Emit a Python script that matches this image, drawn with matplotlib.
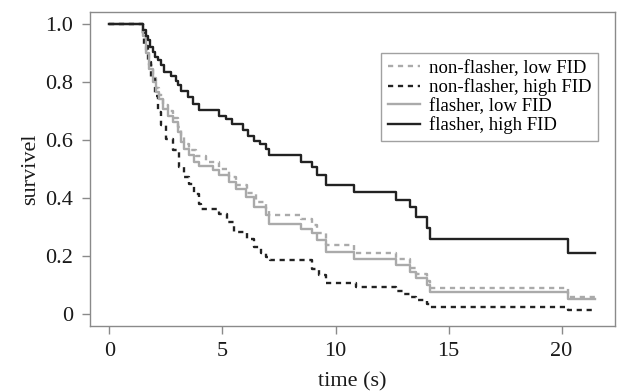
import matplotlib
matplotlib.use('Agg')
import matplotlib.pyplot as plt

plt.rcParams['font.family'] = ['Liberation Serif', 'DejaVu Serif']

# non-flasher, low FID
nl_t = [0, 1.47, 1.62, 1.77, 1.91, 2.06, 2.2, 2.35, 2.57, 2.8, 3.02, 3.16, 3.31, 3.53, 3.83,
        4.27, 4.86, 5.3, 5.6, 6.1, 6.47, 6.92, 7.06, 8.46, 8.97, 9.19, 9.57, 10.8, 12.66,
        13.3, 13.54, 14.05, 14.2, 20.3, 21.5]
nl_s = [1.0, 0.97, 0.91, 0.86, 0.815, 0.78, 0.755, 0.72, 0.70, 0.675, 0.645, 0.61, 0.585, 0.565,
        0.545, 0.524, 0.50, 0.472, 0.444, 0.416, 0.386, 0.364, 0.34, 0.329, 0.306, 0.278, 0.237,
        0.212, 0.189, 0.16, 0.138, 0.115, 0.09, 0.06, 0.06]

# non-flasher, high FID
nh_t = [0, 1.47, 1.55, 1.7, 1.85, 2.0, 2.15, 2.3, 2.5, 2.8, 3.09, 3.31, 3.53, 3.75, 3.97, 4.05,
        4.86, 5.22, 5.52, 6.1, 6.4, 6.7, 6.92, 7.1, 8.97, 9.27, 9.57, 10.9, 12.66, 13.0, 13.3,
        13.54, 14.05, 14.2, 20.3, 21.5]
nh_s = [1.0, 0.97, 0.925, 0.868, 0.81, 0.753, 0.696, 0.65, 0.604, 0.564, 0.507, 0.472, 0.45,
        0.415, 0.381, 0.363, 0.346, 0.318, 0.283, 0.26, 0.232, 0.21, 0.197, 0.186, 0.157, 0.134,
        0.106, 0.092, 0.08, 0.071, 0.06, 0.048, 0.035, 0.025, 0.014, 0.014]

# flasher, low FID
fl_t = [0, 1.47, 1.62, 1.77, 1.91, 2.06, 2.2, 2.35, 2.57, 2.8, 3.02, 3.16, 3.31, 3.53, 3.75,
        3.97, 4.56, 4.86, 5.3, 5.59, 6.03, 6.4, 6.92, 7.06, 8.46, 8.97, 9.19, 9.57, 10.8, 12.66,
        13.3, 13.54, 14.05, 14.2, 20.3, 21.5]
fl_s = [1.0, 0.96, 0.90, 0.845, 0.80, 0.765, 0.742, 0.708, 0.684, 0.661, 0.627, 0.593, 0.57,
        0.547, 0.524, 0.51, 0.495, 0.478, 0.455, 0.432, 0.404, 0.369, 0.34, 0.312, 0.295, 0.278,
        0.255, 0.214, 0.19, 0.168, 0.146, 0.123, 0.10, 0.077, 0.052, 0.052]

# flasher, high FID
fh_t = [0, 1.47, 1.6, 1.69, 1.8, 1.91, 2.02, 2.13, 2.28, 2.43, 2.72, 2.94, 3.05, 3.16, 3.46,
        3.68, 3.97, 4.86, 5.15, 5.44, 5.89, 6.15, 6.4, 6.65, 6.92, 7.06, 8.46, 8.97, 9.19, 9.57,
        10.8, 12.66, 13.3, 13.54, 14.05, 14.2, 20.3, 21.5]
fh_s = [1.0, 0.98, 0.96, 0.943, 0.92, 0.902, 0.885, 0.874, 0.857, 0.834, 0.822, 0.805, 0.79,
        0.77, 0.748, 0.725, 0.702, 0.684, 0.673, 0.655, 0.633, 0.615, 0.598, 0.585, 0.57, 0.547,
        0.524, 0.507, 0.478, 0.444, 0.42, 0.395, 0.369, 0.335, 0.298, 0.26, 0.212, 0.212]

x_ticks = [0, 5, 10, 15, 20]
y_ticks = [0, 0.2, 0.4, 0.6, 0.8, 1.0]
y_labels = ['0', '0.2', '0.4', '0.6', '0.8', '1.0']

black = '#222222'
grey = '#aaaaaa'
frame = '#8a8a8a'

fig = plt.figure(figsize=(6.19, 3.92), dpi=100)
ax = fig.add_axes([0.1454, 0.169, 0.848, 0.7996])

ax.plot(nl_t, nl_s, drawstyle='steps-post', color=grey, lw=1.7, dashes=(2.2, 2.0),
        label='non-flasher, low FID')
ax.plot(nh_t, nh_s, drawstyle='steps-post', color=black, lw=1.7, dashes=(2.2, 2.0),
        label='non-flasher, high FID')
ax.plot(fl_t, fl_s, drawstyle='steps-post', color=grey, lw=1.7, label='flasher, low FID')
ax.plot(fh_t, fh_s, drawstyle='steps-post', color=black, lw=1.7, label='flasher, high FID')

ax.set_xlim(-0.86, 22.36)
ax.set_ylim(-0.04, 1.04)
ax.set_xticks(x_ticks)
ax.set_yticks(y_ticks)
ax.set_yticklabels(y_labels)

for sp in ax.spines.values():
    sp.set_color(frame)
    sp.set_linewidth(1.0)
ax.tick_params(direction='out', length=6, width=1.0, color=frame, labelsize=16,
               labelcolor='#1a1a1a', pad=6)

ax.set_xlabel('time (s)', fontsize=16, color='#1a1a1a', labelpad=8)
ax.set_ylabel('survivel', fontsize=16, color='#1a1a1a', labelpad=4)

leg = ax.legend(loc='upper right', bbox_to_anchor=(0.968, 0.870), fontsize=13.5,
                frameon=True, fancybox=False, edgecolor=frame, handlelength=1.7,
                handletextpad=0.5, labelspacing=0.08, borderpad=0.35, borderaxespad=0)
leg.get_frame().set_linewidth(1.0)

fig.savefig('out.png', dpi=100)
